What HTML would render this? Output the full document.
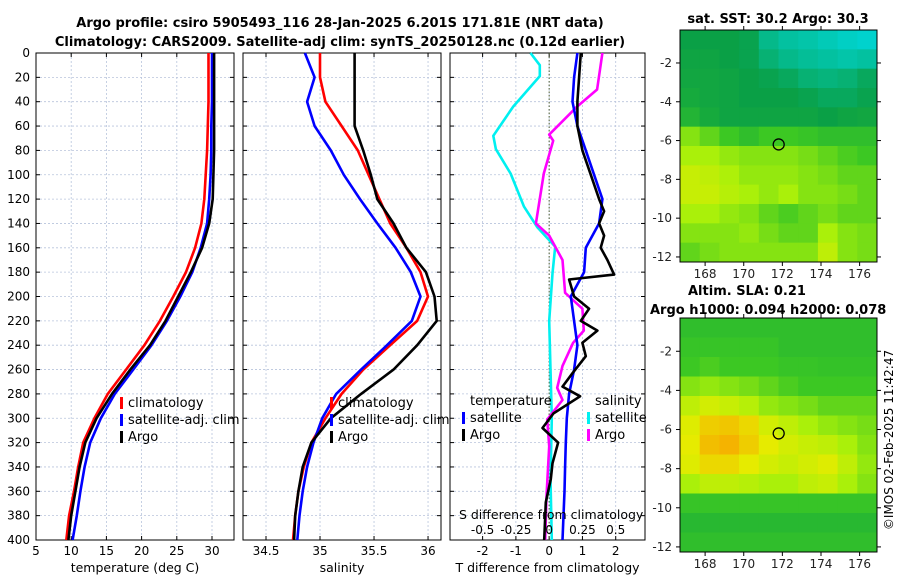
<!DOCTYPE html>
<html><head><meta charset="utf-8"><style>
body{margin:0;background:#fff}
svg{display:block;font-family:"DejaVu Sans","Liberation Sans",sans-serif}
</style></head><body>
<svg id="fig" width="900" height="580" viewBox="0 0 900 580">
<text x="340" y="27" text-anchor="middle" font-size="13" font-weight="bold">Argo profile: csiro 5905493_116 28-Jan-2025 6.201S 171.81E (NRT data)</text>
<text x="340" y="46" text-anchor="middle" font-size="13" font-weight="bold">Climatology: CARS2009. Satellite-adj clim: synTS_20250128.nc (0.12d earlier)</text>
<g id="g"></g>
<text transform="translate(893,440) rotate(-90)" text-anchor="middle" font-size="12">©IMOS 02-Feb-2025 11:42:47</text>
</svg>
<script>
// ---- data ----
const depths=[0,20,40,60,80,100,120,140,160,180,200,220,240,260,280,300,320,340,360,380,400];
const tempClim=[29.5,29.5,29.5,29.4,29.3,29.1,28.9,28.5,27.6,26.3,24.5,22.6,20.4,17.8,15.2,13.3,11.7,11.0,10.4,9.7,9.3];
const tempSat=[30.0,30.0,30.0,29.9,29.9,29.8,29.6,29.3,28.4,27.2,25.5,23.6,21.4,18.8,16.2,14.2,12.7,11.9,11.3,10.8,10.2];
const tempArgo=[30.3,30.3,30.3,30.3,30.3,30.2,30.1,29.6,28.6,27.0,25.2,23.4,21.2,18.4,15.8,13.6,12.0,11.2,10.6,10.0,9.6];
const salClim=[35.0,35.0,35.05,35.2,35.35,35.45,35.55,35.65,35.8,35.93,36.0,35.9,35.65,35.4,35.2,35.05,34.92,34.85,34.8,34.77,34.75];
const salSat=[34.86,34.95,34.88,34.95,35.1,35.22,35.37,35.53,35.7,35.84,35.93,35.85,35.62,35.38,35.15,35.02,34.94,34.88,34.84,34.81,34.79];
const salArgo=[35.32,35.32,35.32,35.32,35.4,35.47,35.53,35.68,35.8,35.98,36.06,36.08,35.9,35.68,35.38,35.1,34.92,34.84,34.8,34.77,34.76];
const tdSat=[0.85,0.75,0.7,0.85,1.1,1.35,1.6,1.5,1.1,1.05,0.65,0.75,0.85,0.75,0.6,0.53,0.5,0.48,0.46,0.43,0.4];
const tdArgoDepth=[0,20,40,60,80,100,120,130,140,150,160,170,182,186,200,210,220,228,238,249,263,274,282,296,308,320,337,350,369,400];
const tdArgo=[0.95,0.9,0.85,0.85,1.0,1.25,1.5,1.65,1.5,1.65,1.55,1.75,1.95,0.6,0.75,1.2,0.95,1.45,1.0,1.1,0.7,0.4,0.93,0.13,-0.2,0.27,0.1,0.05,-0.1,-0.15];
const sdArgoDepth=[0,30,44,67,72,99,140,150,170,197,210,228,238,257,275,285,301,323,364,400];
const sdArgo=[0.4,0.36,0.21,0,0.03,-0.04,-0.1,0.0,0.1,0.12,0.25,0.26,0.18,0.1,0.06,0.1,-0.015,0.0,-0.02,-0.03];
const sdSatDepth=[0,10,19,44,68,79,99,126,143,159,181,220,260,300,350,400];
const sdSat=[-0.14,-0.07,-0.07,-0.27,-0.42,-0.4,-0.29,-0.19,-0.09,0.045,0.025,0.0,0.01,0.02,0.01,0.02];
const depthTicks=[0,20,40,60,80,100,120,140,160,180,200,220,240,260,280,300,320,340,360,380,400];
const tempTicks=[5,10,15,20,25,30];
const salTicks=[34.5,35,35.5,36];
const tdTicks=[-2,-1,0,1,2];
const sdTicks=[-0.5,-0.25,0,0.25,0.5];
const sdTickLabels=["-0.5","-0.25","0","0.25","0.5"];
const latTicks=[-2,-4,-6,-8,-10,-12];
const lonTicks=[168,170,172,174,176];
const argoLon=171.81, argoLat=-6.2;
const sstGrid=[
[0.3,0.3,0.3,0.28,0.15,0.1,0.08,0.05,0.02,0.0],
[0.32,0.32,0.3,0.28,0.2,0.15,0.12,0.1,0.08,0.1],
[0.33,0.33,0.32,0.3,0.28,0.25,0.2,0.18,0.2,0.25],
[0.35,0.33,0.32,0.3,0.3,0.3,0.28,0.25,0.25,0.28],
[0.4,0.35,0.32,0.32,0.32,0.32,0.32,0.3,0.32,0.33],
[0.6,0.55,0.5,0.45,0.5,0.5,0.48,0.45,0.45,0.45],
[0.65,0.65,0.62,0.6,0.6,0.6,0.58,0.55,0.52,0.5],
[0.72,0.7,0.66,0.62,0.62,0.62,0.6,0.58,0.55,0.55],
[0.72,0.72,0.68,0.65,0.62,0.65,0.6,0.6,0.58,0.55],
[0.65,0.65,0.62,0.6,0.55,0.52,0.55,0.58,0.55,0.55],
[0.6,0.6,0.6,0.62,0.58,0.55,0.55,0.65,0.6,0.58],
[0.55,0.58,0.6,0.6,0.6,0.6,0.6,0.7,0.6,0.58]];
const slaGrid=[
[0.45,0.45,0.45,0.45,0.45,0.45,0.45,0.45,0.45,0.45],
[0.48,0.48,0.48,0.48,0.48,0.45,0.45,0.45,0.45,0.45],
[0.5,0.52,0.5,0.5,0.5,0.48,0.48,0.47,0.47,0.47],
[0.6,0.62,0.6,0.58,0.55,0.52,0.5,0.5,0.5,0.5],
[0.7,0.75,0.72,0.68,0.62,0.6,0.58,0.55,0.55,0.55],
[0.78,0.88,0.9,0.85,0.75,0.7,0.65,0.62,0.6,0.58],
[0.8,0.92,0.95,0.88,0.8,0.75,0.72,0.7,0.65,0.6],
[0.78,0.85,0.85,0.8,0.75,0.72,0.75,0.78,0.7,0.62],
[0.65,0.7,0.7,0.68,0.65,0.65,0.7,0.72,0.65,0.6],
[0.48,0.48,0.48,0.48,0.48,0.48,0.48,0.48,0.48,0.48],
[0.42,0.42,0.42,0.42,0.42,0.42,0.42,0.42,0.42,0.42],
[0.45,0.45,0.45,0.45,0.45,0.45,0.45,0.45,0.45,0.45]];

// ---- drawing ----
const NS='http://www.w3.org/2000/svg', G=document.getElementById('g');
function el(tag,attrs,parent,text){const e=document.createElementNS(NS,tag);for(const k in attrs)e.setAttribute(k,attrs[k]);if(text!==undefined)e.textContent=text;(parent||G).appendChild(e);return e;}
const TOP=53,BOT=540;
const yD=d=>TOP+d*(BOT-TOP)/400;
function panel(name,x0,x1,vmin,vmax,ticks,labels,xlabel,yLabels){
  const xs=v=>x0+(v-vmin)*(x1-x0)/(vmax-vmin);
  const g=el('g',{});
  
  
  depthTicks.forEach(d=>{
    const l=el('line',{x1:x0,x2:x1,y1:yD(d),y2:yD(d),stroke:'#b8c4dc','stroke-width':0.8,'stroke-dasharray':'2,2'},g);
    
    
    el('line',{x1:x0,x2:x0+4,y1:yD(d),y2:yD(d),stroke:'#000'},g);
    el('line',{x1:x1-4,x2:x1,y1:yD(d),y2:yD(d),stroke:'#000'},g);
    if(yLabels){const t=el('text',{x:x0-6,y:yD(d)+4,'text-anchor':'end','font-size':12},g,String(d));
      
      }
  });
  ticks.forEach((v,i)=>{
    const l=el('line',{x1:xs(v),x2:xs(v),y1:TOP,y2:BOT,stroke:'#b8c4dc','stroke-width':0.8,'stroke-dasharray':'2,2'},g);
    
    
    el('line',{x1:xs(v),x2:xs(v),y1:BOT-4,y2:BOT,stroke:'#000'},g);
    el('line',{x1:xs(v),x2:xs(v),y1:TOP,y2:TOP+4,stroke:'#000'},g);
    const t=el('text',{x:xs(v),y:555,'text-anchor':'middle','font-size':12},g,labels[i]);
    
    
  });
  const xl=el('text',{x:(x0+x1)/2,y:572,'text-anchor':'middle','font-size':12.5},g,xlabel);
  
  
  const fr=el('rect',{x:x0,y:TOP,width:x1-x0,height:BOT-TOP,fill:'none',stroke:'#000','stroke-width':1},g);
  
  
  return {g,xs};
}
function line(p,name,ds,vals,color,xs){
  const f=xs||p.xs;
  const pts=vals.map((v,i)=>f(v).toFixed(1)+','+yD(ds[i]).toFixed(1)).join(' ');
  const l=el('polyline',{points:pts,fill:'none',stroke:color,'stroke-width':2.6,'stroke-linejoin':'round'},p.g);
  
  
}
function legend(p,x,y,items,name){
  const g=el('g',{},p.g);
  
  
  items.forEach(([txt,col],i)=>{
    if(col) el('rect',{x:x,y:y+i*17-10,width:3,height:12,fill:col},g);
    const t=el('text',{x:x+(col?8:0),y:y+i*17,'font-size':13},g,txt);
    
    
  });
}
// panel 1
const p1=panel('temperature-panel',36,234,5,33.125,tempTicks,tempTicks.map(String),'temperature (deg C)',true);
line(p1,'temp-climatology-line',depths,tempClim,'#ff0000');
line(p1,'temp-satellite-line',depths,tempSat,'#0000ff');
line(p1,'temp-argo-line',depths,tempArgo,'#000000');
legend(p1,120,407,[['climatology','#ff0000'],['satellite-adj. clim','#0000ff'],['Argo','#000']],'temperature-legend');
// panel 2
const p2=panel('salinity-panel',243,441,34.287,36.12,salTicks,salTicks.map(String),'salinity',false);
line(p2,'sal-climatology-line',depths,salClim,'#ff0000');
line(p2,'sal-satellite-line',depths,salSat,'#0000ff');
line(p2,'sal-argo-line',depths,salArgo,'#000000');
legend(p2,330,407,[['climatology','#ff0000'],['satellite-adj. clim','#0000ff'],['Argo','#000']],'salinity-legend');
// panel 3
const p3=panel('difference-panel',450,645,-2.98,2.88,tdTicks,tdTicks.map(String),'T difference from climatology',false);
const xsS=v=>p3.xs(v*4);
el('line',{x1:p3.xs(0),x2:p3.xs(0),y1:TOP,y2:BOT,stroke:'#4a5a30','stroke-width':1,'stroke-dasharray':'1.5,2'},p3.g);
line(p3,'sdiff-satellite-line',sdSatDepth,sdSat,'#00f0f0',xsS);
line(p3,'sdiff-argo-line',sdArgoDepth,sdArgo,'#ff00ff',xsS);
line(p3,'tdiff-satellite-line',depths,tdSat,'#0000ff');
line(p3,'tdiff-argo-line',tdArgoDepth,tdArgo,'#000000');
legend(p3,470,405,[['temperature',null]],'tdiff-legend-title');
legend(p3,462,422,[['satellite','#0000ff'],['Argo','#000']],'tdiff-legend');
legend(p3,595,405,[['salinity',null]],'sdiff-legend-title');
legend(p3,587,422,[['satellite','#00f0f0'],['Argo','#ff00ff']],'sdiff-legend');
{const t=el('text',{x:p3.xs(0)+2,y:519,'text-anchor':'middle','font-size':12.5},p3.g,'S difference from climatology');
 
 sdTicks.forEach((v,i)=>{const s=el('text',{x:xsS(v),y:534,'text-anchor':'middle','font-size':12},p3.g,sdTickLabels[i]);
  });}
// maps
const stops=[[0,[0,210,205]],[0.3,[10,160,70]],[0.5,[60,200,35]],[0.65,[170,240,10]],[0.8,[230,235,0]],[1,[250,160,0]]];
function cmap(v){for(let i=1;i<stops.length;i++){if(v<=stops[i][0]){const[a,c0]=stops[i-1],[b,c1]=stops[i];const t=(v-a)/(b-a);return 'rgb('+c0.map((c,k)=>Math.round(c+(c1[k]-c)*t)).join(',')+')';}}return 'rgb(250,160,0)';}
function map(name,grid,x0,x1,y0,y1,latTop,latBot,title){
  const lon0=166.7,lon1=176.9;
  const xs=lo=>x0+(lo-lon0)*(x1-x0)/(lon1-lon0);
  const ys=la=>y0+(latTop-la)*(y1-y0)/(latTop-latBot);
  const g=el('g',{});
  
  
  const R=grid.length,C=grid[0].length,cw=(x1-x0)/C,ch=(y1-y0)/R;
  grid.forEach((row,r)=>row.forEach((v,c)=>{
    const cell=el('rect',{x:x0+c*cw,y:y0+r*ch,width:cw+0.5,height:ch+0.5,fill:cmap(v)},g);
    
    
  }));
  el('rect',{x:x0,y:y0,width:x1-x0,height:y1-y0,fill:'none',stroke:'#000'},g);
  latTicks.forEach(la=>{el('line',{x1:x0-4,x2:x0,y1:ys(la),y2:ys(la),stroke:'#000'},g);el('line',{x1:x1,x2:x1+4,y1:ys(la),y2:ys(la),stroke:'#000'},g);
    const t=el('text',{x:x0-8,y:ys(la)+4,'text-anchor':'end','font-size':12,fill:'#222'},g,String(la));
    });
  lonTicks.forEach(lo=>{el('line',{x1:xs(lo),x2:xs(lo),y1:y1,y2:y1+4,stroke:'#000'},g);el('line',{x1:xs(lo),x2:xs(lo),y1:y0-4,y2:y0,stroke:'#000'},g);
    const t=el('text',{x:xs(lo),y:y1+16,'text-anchor':'middle','font-size':12,fill:'#222'},g,String(lo));
    });
  const c=el('circle',{cx:xs(argoLon),cy:ys(argoLat),r:5.5,fill:'none',stroke:'#000','stroke-width':1.3},g);
  
  
  return g;
}
map('sst-map',sstGrid,680,877,30,262,-0.3,-12.26);
{const t=el('text',{x:778,y:23,'text-anchor':'middle','font-size':13,'font-weight':'bold'},G,'sat. SST: 30.2  Argo: 30.3');}
map('sla-map',slaGrid,680,877,318,552,-0.3,-12.26);
{const t=el('text',{x:688,y:295,'font-size':13,'font-weight':'bold'},G,'Altim. SLA: 0.21');
 const t2=el('text',{x:650,y:314,'font-size':13,'font-weight':'bold'},G,'Argo h1000: 0.094 h2000: 0.078');}
</script>
</body></html>
